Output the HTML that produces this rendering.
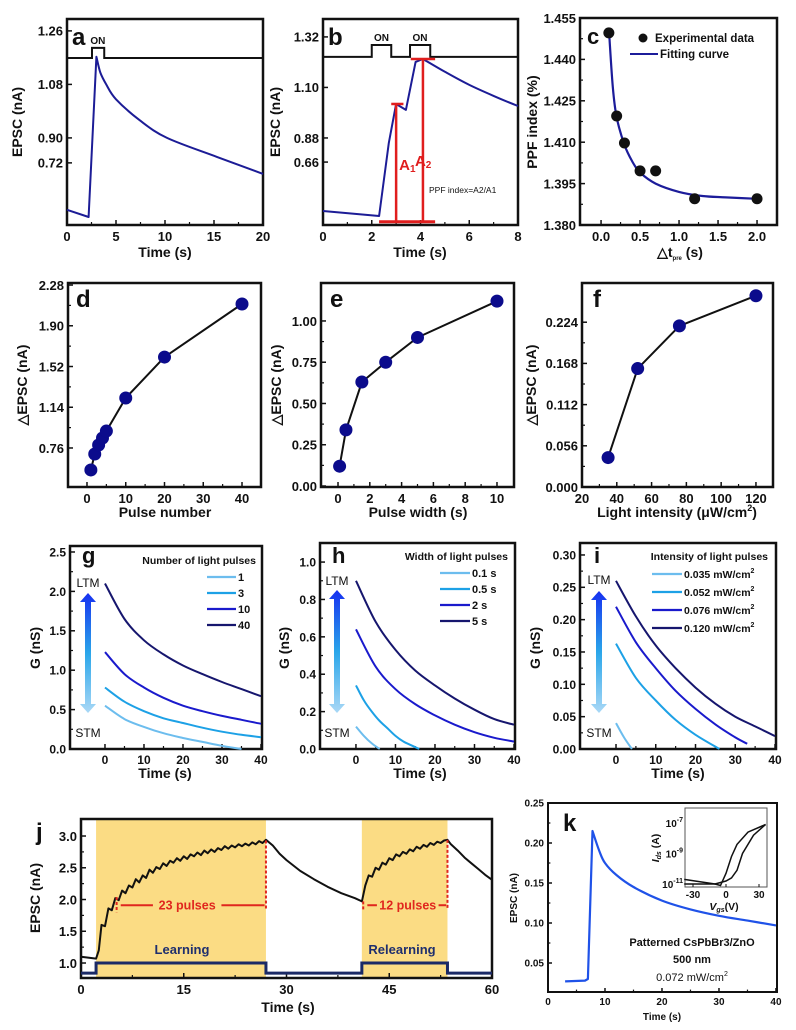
<!DOCTYPE html>
<html><head><meta charset="utf-8">
<style>
html,body{margin:0;padding:0;background:#fff;}
svg{display:block;font-family:"Liberation Sans",Arial,sans-serif;}
text{font-family:"Liberation Sans",Arial,sans-serif;}
</style></head>
<body>
<svg id="fig" width="796" height="1030" viewBox="0 0 796 1030" xmlns="http://www.w3.org/2000/svg">
<defs>
<linearGradient id="ltmgrad" x1="0" y1="0" x2="0" y2="1">
<stop offset="0" stop-color="#1630f0"/><stop offset="0.5" stop-color="#2aa6ea"/><stop offset="1" stop-color="#a9d8f6"/>
</linearGradient>
</defs>
</svg>
<script>
// ---------- DATA ----------
const a_t=[0,2.2,3.0,3.4,4.0,5,7.4,10.2,15.3,20];
const a_v=[0.658,0.634,1.173,1.12,1.08,1.03,0.96,0.90,0.836,0.779];
const a_on=[2.55,3.8];
const b_t=[0,2.3,2.7,3.0,3.4,3.8,4.1,5,6,7,8];
const b_v=[0.562,0.540,0.858,1.028,1.002,1.211,1.224,1.168,1.111,1.063,1.019];
const b_on1=[2.0,2.8];
const b_on2=[3.57,4.4];
const c_x=[0.1,0.2,0.3,0.5,0.7,1.2,2.0];
const c_y=[1.4496,1.4195,1.4097,1.3996,1.3996,1.3895,1.3895];
const c_fx=[0.1,0.15,0.2,0.3,0.4,0.5,0.7,1.0,1.3,1.6,2.0];
const c_fy=[1.451,1.430,1.419,1.409,1.403,1.399,1.395,1.392,1.3905,1.390,1.3895];
const d_x=[1,2,3,4,5,10,20,40];
const d_y=[0.555,0.704,0.788,0.853,0.918,1.226,1.608,2.103];
const e_x=[0.1,0.5,1.5,3,5,10];
const e_y=[0.12,0.34,0.63,0.75,0.90,1.12];
const f_x=[35,52,76,120];
const f_y=[0.040,0.161,0.219,0.260];
const g_t=[0,5,10,15,20,25,30,35,40];
const g_40=[2.1,1.65,1.38,1.2,1.06,0.95,0.85,0.76,0.67];
const g_10=[1.23,0.95,0.78,0.65,0.55,0.48,0.42,0.37,0.32];
const g_3=[0.78,0.6,0.48,0.39,0.33,0.27,0.22,0.18,0.15];
const g_1t=[0,5,10,15,20,25,30,35];
const g_1=[0.55,0.38,0.28,0.2,0.14,0.09,0.04,0.0];
const h_t=[0,5,10,15,20,25,30,35,40];
const h_5=[0.9,0.68,0.53,0.42,0.34,0.27,0.21,0.16,0.13];
const h_2=[0.64,0.44,0.32,0.24,0.18,0.13,0.09,0.06,0.04];
const h_05t=[0,2,4,6,8,10,12,14,16];
const h_05=[0.34,0.26,0.2,0.15,0.11,0.07,0.04,0.02,0.0];
const h_01t=[0,2,4,6];
const h_01=[0.12,0.07,0.03,0.0];
const i_t=[0,5,10,15,20,25,30,35,40];
const i_120=[0.26,0.205,0.16,0.125,0.095,0.07,0.05,0.035,0.02];
const i_076t=[0,5,10,15,20,25,30,33];
const i_076=[0.22,0.165,0.125,0.09,0.062,0.038,0.018,0.008];
const i_052t=[0,5,10,15,20,26];
const i_052=[0.163,0.11,0.075,0.045,0.022,0.0];
const i_035t=[0,2,4];
const i_035=[0.04,0.018,0.0];
const j_t=[0,2.2,2.6,3,3.5,4,4.5,5,5.5,6,6.5,7,7.5,8,8.5,9,9.5,10,10.5,11,11.5,12,12.5,13,13.5,14,14.5,15,15.5,16,16.5,17,17.5,18,18.5,19,19.5,20,20.5,21,21.5,22,22.5,23,23.5,24,24.5,25,25.5,26,26.5,27,28,29,30,32,34,36,38,40,41,41.5,42,42.5,43,43.5,44,44.5,45,45.5,46,46.5,47,47.5,48,48.5,49,49.5,50,50.5,51,51.5,52,52.5,53,53.5,54,55,56,57,58,59,60];
const j_v=[1.10,1.07,1.2,1.60,1.58,1.86,1.83,2.02,1.99,2.14,2.10,2.22,2.19,2.32,2.27,2.38,2.34,2.47,2.42,2.51,2.48,2.57,2.53,2.61,2.58,2.65,2.61,2.68,2.64,2.71,2.68,2.74,2.70,2.77,2.73,2.79,2.75,2.81,2.78,2.84,2.80,2.85,2.82,2.87,2.84,2.88,2.85,2.90,2.87,2.92,2.89,2.94,2.85,2.72,2.62,2.45,2.32,2.20,2.10,2.02,1.97,2.22,2.38,2.36,2.50,2.47,2.58,2.55,2.65,2.62,2.71,2.68,2.75,2.72,2.79,2.76,2.83,2.80,2.86,2.83,2.89,2.86,2.91,2.89,2.93,2.94,2.87,2.77,2.66,2.57,2.48,2.39,2.31];
const j_steps=[[0,2.2,0.84],[2.2,27,1.0],[27,41,0.84],[41,53.5,1.0],[53.5,60,0.84]];
const j_shade=[[2.2,27],[41,53.5]];
const k_t=[3,6.5,7.0,7.8,9,10,12,15,20,25,30,35,40];
const k_v=[0.027,0.028,0.03,0.215,0.19,0.175,0.16,0.145,0.128,0.117,0.109,0.103,0.097];
const kin_v1=[-38,-10,-5,0,5,10,20,36];
const kin_l1=[-10.7,-11.0,-11.1,-10.3,-9.2,-8.4,-7.6,-7.1];
const kin_v2=[-38,-10,0,5,10,15,25,36];
const kin_l2=[-11.0,-11.0,-10.8,-10.6,-10.1,-9.0,-7.8,-7.1];

// ---------- HELPERS ----------
const NS='http://www.w3.org/2000/svg';
const svg=document.getElementById('fig');
function el(tag,attrs,name,parent){
  const e=document.createElementNS(NS,tag);
  for(const k in attrs) e.setAttribute(k,attrs[k]);
  
  
  (parent||svg).appendChild(e);
  return e;
}
function txt(x,y,s,o,name,parent){
  o=o||{};
  const t=el('text',{x:x,y:y,'font-size':o.fs||13,'font-weight':o.fw||'bold','text-anchor':o.anchor||'start',fill:o.fill||'#111'},name,parent);
  if(o.rot) t.setAttribute('transform','rotate(-90 '+x+' '+y+')');
  t.textContent=s;
  return t;
}
function frame(p){
  const g=el('g',{},p.id+'-panel');
  const [x0,y0,x1,y1]=p.box;
  const sx=v=>x0+(v-p.xd[0])/(p.xd[1]-p.xd[0])*(x1-x0);
  const sy=v=>y1-(v-p.yd[0])/(p.yd[1]-p.yd[0])*(y1-y0);
  const fs=p.fs||13;
  const tl=p.tl||5;
  p.xt.forEach((v,i)=>{
    const X=sx(v);
    el('line',{x1:X,x2:X,y1:y1,y2:y1-tl,stroke:'#111','stroke-width':1.5},'x-tick',g);
    txt(X,y1+fs+3,p.xl[i],{fs:fs,anchor:'middle'},'x-tick-label',g);
    if(i<p.xt.length-1){const m=sx((v+p.xt[i+1])/2);
      el('line',{x1:m,x2:m,y1:y1,y2:y1-tl*0.6,stroke:'#111','stroke-width':1.2},'x-minor-tick',g);}
  });
  p.yt.forEach((v,i)=>{
    const Y=sy(v);
    el('line',{x1:x0,x2:x0+tl,y1:Y,y2:Y,stroke:'#111','stroke-width':1.5},'y-tick',g);
    txt(x0-4,Y+fs*0.37,p.yl[i],{fs:fs,anchor:'end'},'y-tick-label',g);
    if(i<p.yt.length-1 && !p.nominor){const m=sy((v+p.yt[i+1])/2);
      el('line',{x1:x0,x2:x0+tl*0.6,y1:m,y2:m,stroke:'#111','stroke-width':1.2},'y-minor-tick',g);}
  });
  el('rect',{x:x0,y:y0,width:x1-x0,height:y1-y0,fill:'none',stroke:'#111','stroke-width':p.sw||2.5},'plot-frame',g);
  return {sx,sy,g};
}
function line(ax,xs,ys,color,w,name){
  const d=xs.map((v,i)=>(i?'L':'M')+ax.sx(v).toFixed(1)+' '+ax.sy(ys[i]).toFixed(1)).join(' ');
  return el('path',{d:d,fill:'none',stroke:color,'stroke-width':w||2,'stroke-linejoin':'round'},name,ax.g);
}
function mixed(ax,xs,ys,color,w,name,k){
  const P=xs.map((v,i)=>[ax.sx(v),ax.sy(ys[i])]);
  let d='M'+P[0][0].toFixed(1)+' '+P[0][1].toFixed(1);
  for(let i=0;i<P.length-1;i++){
    const p1=P[i],p2=P[i+1];
    if(i<k){d+=' L'+p2[0].toFixed(1)+' '+p2[1].toFixed(1);continue;}
    const p0=(i>k?P[i-1]:P[i]),p3=P[i+2]||P[i+1];
    const c1=[p1[0]+(p2[0]-p0[0])/6,p1[1]+(p2[1]-p0[1])/6];
    const c2=[p2[0]-(p3[0]-p1[0])/6,p2[1]-(p3[1]-p1[1])/6];
    d+=' C'+c1.map(n=>n.toFixed(1)).join(' ')+' '+c2.map(n=>n.toFixed(1)).join(' ')+' '+p2.map(n=>n.toFixed(1)).join(' ');
  }
  return el('path',{d:d,fill:'none',stroke:color,'stroke-width':w||2,'stroke-linejoin':'round'},name,ax.g);
}
function smooth(ax,xs,ys,color,w,name){return mixed(ax,xs,ys,color,w,name,0);}
function dots(ax,xs,ys,r,color,name){
  xs.forEach((v,i)=>{
    el('circle',{cx:ax.sx(v),cy:ax.sy(ys[i]),r:r,fill:color},name,ax.g);
  });
}
function ytitle(x,y,s,fs){txt(x,y,s,{fs:fs||14,anchor:'middle',rot:1},'y-axis-title');}
function xtitle(x,y,s,fs){txt(x,y,s,{fs:fs||14,anchor:'middle'},'x-axis-title');}
function letter(x,y,s,fs){txt(x,y,s,{fs:fs||24},'panel-label-'+s);}
function ltmArrow(ax,x,yT,yB,ltmY,stmY){
  el('path',{d:`M${x-3} ${yT+9} L${x-8} ${yT+9} L${x} ${yT} L${x+8} ${yT+9} L${x+3} ${yT+9} L${x+3} ${yB-9} L${x+8} ${yB-9} L${x} ${yB} L${x-8} ${yB-9} L${x-3} ${yB-9} Z`,fill:'url(#ltmgrad)'},'ltm-stm-arrow',ax.g);
  txt(x,ltmY,'LTM',{fs:12,fw:'normal',anchor:'middle'},'ltm-label',ax.g);
  txt(x,stmY,'STM',{fs:12,fw:'normal',anchor:'middle'},'stm-label',ax.g);
}
const NAVY='#1c1c96', DOT='#0b0b8c';
const C1='#6cbdee',C2='#1da1e6',C3='#1a1acc',C4='#16166e';

// ---------- PANEL A ----------
(function(){
  const ax=frame({id:'a',box:[67,19,263,225],xd:[0,20],yd:[0.607,1.30],xt:[0,5,10,15,20],xl:['0','5','10','15','20'],yt:[0.816,0.90,1.08,1.26],yl:['0.72','0.90','1.08','1.26'],nominor:1});
  const base=1.169,hi=1.203;
  el('path',{d:`M${ax.sx(0)} ${ax.sy(base)} L${ax.sx(a_on[0])} ${ax.sy(base)} L${ax.sx(a_on[0])} ${ax.sy(hi)} L${ax.sx(a_on[1])} ${ax.sy(hi)} L${ax.sx(a_on[1])} ${ax.sy(base)} L${ax.sx(20)} ${ax.sy(base)}`,fill:'none',stroke:'#111','stroke-width':2},'light-pulse-trace',ax.g);
  txt(ax.sx(3.15),ax.sy(hi)-4,'ON',{fs:10,anchor:'middle'},'on-label',ax.g);
  mixed(ax,a_t,a_v,NAVY,2,'epsc-curve',2);
  letter(72,45,'a');
  ytitle(22,122,'EPSC (nA)');
  xtitle(165,257,'Time (s)');
})();

// ---------- PANEL B ----------
(function(){
  const ax=frame({id:'b',box:[323,19,518,225],xd:[0,8],yd:[0.501,1.398],xt:[0,2,4,6,8],xl:['0','2','4','6','8'],yt:[0.775,0.88,1.10,1.32],yl:['0.66','0.88','1.10','1.32'],nominor:1});
  const base=1.233,hi=1.285;
  const X=ax.sx,Y=ax.sy;
  el('path',{d:`M${X(0)} ${Y(base)} L${X(b_on1[0])} ${Y(base)} L${X(b_on1[0])} ${Y(hi)} L${X(b_on1[1])} ${Y(hi)} L${X(b_on1[1])} ${Y(base)} L${X(b_on2[0])} ${Y(base)} L${X(b_on2[0])} ${Y(hi)} L${X(b_on2[1])} ${Y(hi)} L${X(b_on2[1])} ${Y(base)} L${X(8)} ${Y(base)}`,fill:'none',stroke:'#111','stroke-width':2},'light-pulse-trace',ax.g);
  txt(X(2.4),Y(hi)-4,'ON',{fs:10,anchor:'middle'},'on-label-1',ax.g);
  txt(X(3.98),Y(hi)-4,'ON',{fs:10,anchor:'middle'},'on-label-2',ax.g);
  mixed(ax,b_t,b_v,NAVY,2,'epsc-curve',6);
  const red='#e01e1e', bot=0.515;
  el('line',{x1:X(2.3),x2:X(4.6),y1:Y(bot),y2:Y(bot),stroke:red,'stroke-width':3},'baseline-marker',ax.g);
  el('line',{x1:X(3.0),x2:X(3.0),y1:Y(bot),y2:Y(1.028),stroke:red,'stroke-width':2.5},'a1-marker',ax.g);
  el('line',{x1:X(2.8),x2:X(3.3),y1:Y(1.028),y2:Y(1.028),stroke:red,'stroke-width':2.5},'a1-cap',ax.g);
  el('line',{x1:X(4.1),x2:X(4.1),y1:Y(bot),y2:Y(1.224),stroke:red,'stroke-width':2.5},'a2-marker',ax.g);
  el('line',{x1:X(3.6),x2:X(4.6),y1:Y(1.224),y2:Y(1.224),stroke:red,'stroke-width':2.5},'a2-cap',ax.g);
  const t1=txt(X(3.0)+3,170,'A',{fs:15,fill:red},'a1-label',ax.g);
  const s1=document.createElementNS(NS,'tspan');s1.setAttribute('font-size','10');s1.setAttribute('dy','2');s1.textContent='1';t1.appendChild(s1);
  const t2=txt(X(4.1)-8,166,'A',{fs:15,fill:red},'a2-label',ax.g);
  const s2=document.createElementNS(NS,'tspan');s2.setAttribute('font-size','10');s2.setAttribute('dy','2');s2.textContent='2';t2.appendChild(s2);
  txt(429,193,'PPF index=A2/A1',{fs:8.5,fw:'normal'},'ppf-formula',ax.g);
  letter(328,45,'b');
  ytitle(280,122,'EPSC (nA)');
  xtitle(420,257,'Time (s)');
})();

// ---------- PANEL C ----------
(function(){
  const ax=frame({id:'c',box:[580,18,777,225],xd:[-0.27,2.256],yd:[1.380,1.455],xt:[0,0.5,1.0,1.5,2.0],xl:['0.0','0.5','1.0','1.5','2.0'],yt:[1.380,1.395,1.410,1.425,1.440,1.455],yl:['1.380','1.395','1.410','1.425','1.440','1.455']});
  smooth(ax,c_fx,c_fy,'#1c1c9a',2.2,'fitting-curve');
  dots(ax,c_x,c_y,5.5,'#111','experimental-point');
  el('circle',{cx:643,cy:38,r:4.5,fill:'#111'},'legend-marker-experimental',ax.g);
  txt(655,42,'Experimental data',{fs:11.5},'legend-text-experimental',ax.g);
  el('line',{x1:630,x2:658,y1:54,y2:54,stroke:'#1c1c9a','stroke-width':2},'legend-line-fit',ax.g);
  txt(660,58,'Fitting curve',{fs:11.5},'legend-text-fit',ax.g);
  letter(587,44,'c',22);
  ytitle(537,122,'PPF index (%)');
  const t=txt(680,257,'\u25B3t',{fs:14,anchor:'middle'},'x-axis-title');
  const sp=document.createElementNS(NS,'tspan');sp.setAttribute('font-size','6');sp.setAttribute('dy','3');sp.textContent='pre';t.appendChild(sp);
  const sp2=document.createElementNS(NS,'tspan');sp2.setAttribute('dy','-3');sp2.textContent=' (s)';t.appendChild(sp2);
})();

// ---------- PANEL D ----------
(function(){
  const ax=frame({id:'d',box:[68,283,261,487],xd:[-4.9,44.9],yd:[0.396,2.299],xt:[0,10,20,30,40],xl:['0','10','20','30','40'],yt:[0.76,1.14,1.52,1.90,2.28],yl:['0.76','1.14','1.52','1.90','2.28']});
  line(ax,d_x,d_y,'#111',2,'trend-line');
  dots(ax,d_x,d_y,6.5,DOT,'data-point');
  letter(76,307,'d');
  ytitle(27,385,'\u25B3EPSC (nA)');
  xtitle(165,517,'Pulse number');
})();

// ---------- PANEL E ----------
(function(){
  const ax=frame({id:'e',box:[321,283,514,487],xd:[-1.07,11.07],yd:[-0.006,1.23],xt:[0,2,4,6,8,10],xl:['0','2','4','6','8','10'],yt:[0,0.25,0.5,0.75,1.0],yl:['0.00','0.25','0.50','0.75','1.00']});
  line(ax,e_x,e_y,'#111',2,'trend-line');
  dots(ax,e_x,e_y,6.5,DOT,'data-point');
  letter(330,307,'e');
  ytitle(281,385,'\u25B3EPSC (nA)');
  xtitle(418,517,'Pulse width (s)');
})();

// ---------- PANEL F ----------
(function(){
  const ax=frame({id:'f',box:[582,283,773,487],xd:[20,129.8],yd:[0,0.2773],xt:[20,40,60,80,100,120],xl:['20','40','60','80','100','120'],yt:[0,0.056,0.112,0.168,0.224],yl:['0.000','0.056','0.112','0.168','0.224']});
  line(ax,f_x,f_y,'#111',2,'trend-line');
  dots(ax,f_x,f_y,6.5,DOT,'data-point');
  letter(593,307,'f');
  ytitle(536,385,'\u25B3EPSC (nA)');
  const t=txt(677,517,'Light intensity (\u03BCW/cm',{fs:14,anchor:'middle'},'x-axis-title');
  const sp=document.createElementNS(NS,'tspan');sp.setAttribute('font-size','9');sp.setAttribute('dy','-6');sp.textContent='2';t.appendChild(sp);
  const sp2=document.createElementNS(NS,'tspan');sp2.setAttribute('dy','6');sp2.textContent=')';t.appendChild(sp2);
})();

// ---------- PANEL G ----------
(function(){
  const ax=frame({id:'g',box:[70,546,262,749],xd:[-8.97,40.26],yd:[0,2.576],xt:[0,10,20,30,40],xl:['0','10','20','30','40'],yt:[0,0.5,1.0,1.5,2.0,2.5],yl:['0.0','0.5','1.0','1.5','2.0','2.5'],fs:12});
  smooth(ax,g_1t,g_1,C1,2,'series-1-pulse');
  smooth(ax,g_t,g_3,C2,2,'series-3-pulses');
  smooth(ax,g_t,g_10,C3,2,'series-10-pulses');
  smooth(ax,g_t,g_40,C4,2,'series-40-pulses');
  ltmArrow(ax,88,593,713,587,737);
  txt(256,564,'Number of light pulses',{fs:10.5,anchor:'end'},'legend-title',ax.g);
  [['1',C1],['3',C2],['10',C3],['40',C4]].forEach((r,i)=>{
    const y=577+i*16;
    el('line',{x1:207,x2:236,y1:y,y2:y,stroke:r[1],'stroke-width':2.2},'legend-line',ax.g);
    txt(238,y+4,r[0],{fs:11},'legend-label',ax.g);
  });
  letter(82,563,'g',22);
  ytitle(40,648,'G (nS)');
  xtitle(165,778,'Time (s)');
})();

// ---------- PANEL H ----------
(function(){
  const ax=frame({id:'h',box:[320,543,515,749],xd:[-9.1,40.25],yd:[0,1.102],xt:[0,10,20,30,40],xl:['0','10','20','30','40'],yt:[0,0.2,0.4,0.6,0.8,1.0],yl:['0.0','0.2','0.4','0.6','0.8','1.0'],fs:12});
  smooth(ax,h_01t,h_01,C1,2,'series-0.1s');
  smooth(ax,h_05t,h_05,C2,2,'series-0.5s');
  smooth(ax,h_t,h_2,C3,2,'series-2s');
  smooth(ax,h_t,h_5,C4,2,'series-5s');
  ltmArrow(ax,337,590,713,585,737);
  txt(508,560,'Width of light pulses',{fs:10.5,anchor:'end'},'legend-title',ax.g);
  [['0.1 s',C1],['0.5 s',C2],['2 s',C3],['5 s',C4]].forEach((r,i)=>{
    const y=573+i*16;
    el('line',{x1:440,x2:470,y1:y,y2:y,stroke:r[1],'stroke-width':2.2},'legend-line',ax.g);
    txt(472,y+4,r[0],{fs:11},'legend-label',ax.g);
  });
  letter(332,563,'h',22);
  ytitle(289,648,'G (nS)');
  xtitle(420,778,'Time (s)');
})();

// ---------- PANEL I ----------
(function(){
  const ax=frame({id:'i',box:[580,543,776,749],xd:[-9.06,40.25],yd:[0,0.3185],xt:[0,10,20,30,40],xl:['0','10','20','30','40'],yt:[0,0.05,0.10,0.15,0.20,0.25,0.30],yl:['0.00','0.05','0.10','0.15','0.20','0.25','0.30'],fs:12});
  smooth(ax,i_035t,i_035,C1,2,'series-0.035');
  smooth(ax,i_052t,i_052,C2,2,'series-0.052');
  smooth(ax,i_076t,i_076,C3,2,'series-0.076');
  smooth(ax,i_t,i_120,C4,2,'series-0.120');
  ltmArrow(ax,599,591,713,584,737);
  txt(768,560,'Intensity of light pulses',{fs:10.5,anchor:'end'},'legend-title',ax.g);
  [['0.035 mW/cm',C1],['0.052 mW/cm',C2],['0.076 mW/cm',C3],['0.120 mW/cm',C4]].forEach((r,i)=>{
    const y=574+i*18;
    el('line',{x1:652,x2:682,y1:y,y2:y,stroke:r[1],'stroke-width':2.2},'legend-line',ax.g);
    const t=txt(684,y+4,r[0],{fs:10.5},'legend-label',ax.g);
    const sp=document.createElementNS(NS,'tspan');sp.setAttribute('font-size','7');sp.setAttribute('dy','-5');sp.textContent='2';t.appendChild(sp);
  });
  letter(594,563,'i',22);
  ytitle(540,648,'G (nS)');
  xtitle(678,778,'Time (s)');
})();

// ---------- PANEL J ----------
(function(){
  const box=[81,819,492,978];
  const xd=[0,60],yd=[0.764,3.268];
  const sx=v=>box[0]+(v-xd[0])/(xd[1]-xd[0])*(box[2]-box[0]);
  const sy=v=>box[3]-(v-yd[0])/(yd[1]-yd[0])*(box[3]-box[1]);
  const sg=el('g',{},'j-shading');
  j_shade.forEach(s=>{
    el('rect',{x:sx(s[0]),y:box[1],width:sx(s[1])-sx(s[0]),height:box[3]-box[1],fill:'#fbdc84'},'training-window',sg);
  });
  const ax=frame({id:'j',box:box,xd:xd,yd:yd,xt:[0,15,30,45,60],xl:['0','15','30','45','60'],yt:[1.0,1.5,2.0,2.5,3.0],yl:['1.0','1.5','2.0','2.5','3.0']});
  let d='';
  j_steps.forEach((s,i)=>{d+=(i?'L':'M')+sx(s[0])+' '+sy(s[2])+' L'+sx(s[1])+' '+sy(s[2])+' ';});
  el('path',{d:d,fill:'none',stroke:'#1b2a66','stroke-width':3},'pulse-train',ax.g);
  line(ax,j_t,j_v,'#111',2,'epsc-curve');
  const red='#e0261e';
  const dash={stroke:red,'stroke-width':2,'stroke-dasharray':'3 2'};
  el('line',Object.assign({x1:sx(5.2),x2:sx(5.2),y1:sy(2.04),y2:sy(1.8)},dash),'learning-start-marker',ax.g);
  el('line',Object.assign({x1:sx(27),x2:sx(27),y1:sy(2.93),y2:sy(1.85)},dash),'learning-end-marker',ax.g);
  el('line',{x1:sx(5.8),x2:sx(10.5),y1:sy(1.91),y2:sy(1.91),stroke:red,'stroke-width':2},'pulse-span-left',ax.g);
  el('line',{x1:sx(20.5),x2:sx(26.8),y1:sy(1.91),y2:sy(1.91),stroke:red,'stroke-width':2},'pulse-span-right',ax.g);
  txt(sx(15.5),sy(1.91)+4.5,'23 pulses',{fs:12.5,fill:red,anchor:'middle'},'pulses-23-label',ax.g);
  el('line',Object.assign({x1:sx(41.2),x2:sx(41.2),y1:sy(1.97),y2:sy(1.84)},dash),'relearning-start-marker',ax.g);
  el('line',Object.assign({x1:sx(53.5),x2:sx(53.5),y1:sy(2.94),y2:sy(1.86)},dash),'relearning-end-marker',ax.g);
  el('line',{x1:sx(41.8),x2:sx(43.2),y1:sy(1.91),y2:sy(1.91),stroke:red,'stroke-width':2},'pulse-span-left-2',ax.g);
  el('line',{x1:sx(52.2),x2:sx(53.3),y1:sy(1.91),y2:sy(1.91),stroke:red,'stroke-width':2},'pulse-span-right-2',ax.g);
  txt(sx(47.7),sy(1.91)+4.5,'12 pulses',{fs:12.5,fill:red,anchor:'middle'},'pulses-12-label',ax.g);
  txt(182,954,'Learning',{fs:13,fill:'#1f2f6e',anchor:'middle'},'learning-label',ax.g);
  txt(402,954,'Relearning',{fs:13,fill:'#1f2f6e',anchor:'middle'},'relearning-label',ax.g);
  letter(36,840,'j',24);
  ytitle(40,898,'EPSC (nA)');
  xtitle(288,1012,'Time (s)');
})();

// ---------- PANEL K ----------
(function(){
  const ax=frame({id:'k',box:[548,803,777,992],xd:[0,40.18],yd:[0.01375,0.25],xt:[0,10,20,30,40],xl:['0','10','20','30','40'],yt:[0.05,0.10,0.15,0.20,0.25],yl:['0.05','0.10','0.15','0.20','0.25'],fs:10,tl:4,sw:2});
  mixed(ax,k_t,k_v,'#1f52e8',2.2,'epsc-curve',3);
  letter(563,831,'k',24);
  txt(692,946,'Patterned CsPbBr3/ZnO',{fs:11,anchor:'middle'},'sample-label',ax.g);
  txt(692,963,'500 nm',{fs:11,anchor:'middle'},'thickness-label',ax.g);
  const t=txt(692,981,'0.072 mW/cm',{fs:11,fw:'normal',anchor:'middle'},'intensity-label',ax.g);
  const sp=document.createElementNS(NS,'tspan');sp.setAttribute('font-size','7');sp.setAttribute('dy','-5');sp.textContent='2';t.appendChild(sp);
  ytitle(517,898,'EPSC (nA)',10);
  xtitle(662,1020,'Time (s)',10);
  const ib=[685,808,767,887];
  const isx=v=>726+v*1.1;
  const isy=l=>823-(l+7)*15.25;
  const ig=el('g',{},'transfer-inset');
  el('rect',{x:ib[0],y:ib[1],width:ib[2]-ib[0],height:ib[3]-ib[1],fill:'#fff',stroke:'#555','stroke-width':1},'inset-frame',ig);
  [[kin_v1,kin_l1],[kin_v2,kin_l2]].forEach((s,k)=>{
    const d=s[0].map((v,i)=>(i?'L':'M')+isx(v).toFixed(1)+' '+isy(s[1][i]).toFixed(1)).join(' ');
    el('path',{d:d,fill:'none',stroke:'#111','stroke-width':1.5},'transfer-curve-'+(k+1),ig);
  });
  [[-7,'-7'],[-9,'-9'],[-11,'-11']].forEach(r=>{
    const t=txt(683,isy(r[0])+4,'10',{fs:10,anchor:'end'},'inset-y-tick-label',ig);
    const sp=document.createElementNS(NS,'tspan');sp.setAttribute('font-size','7');sp.setAttribute('dy','-5');sp.textContent=r[1];t.appendChild(sp);
  });
  [-30,0,30].forEach(v=>{
    txt(isx(v),898,String(v),{fs:10,anchor:'middle'},'inset-x-tick-label',ig);
    el('line',{x1:isx(v),x2:isx(v),y1:ib[3],y2:ib[3]-3,stroke:'#111','stroke-width':1},'inset-x-tick',ig);
  });
  const yt=txt(659,848,'I',{fs:10.5,anchor:'middle',rot:1},'inset-y-title',ig);
  yt.setAttribute('font-style','italic');
  const a1=document.createElementNS(NS,'tspan');a1.setAttribute('font-size','7');a1.setAttribute('dy','2');a1.textContent='ds';yt.appendChild(a1);
  const a2=document.createElementNS(NS,'tspan');a2.setAttribute('dy','-2');a2.setAttribute('font-style','normal');a2.textContent=' (A)';yt.appendChild(a2);
  const xt=txt(724,910,'V',{fs:10.5,anchor:'middle'},'inset-x-title',ig);
  xt.setAttribute('font-style','italic');
  const b1=document.createElementNS(NS,'tspan');b1.setAttribute('font-size','7');b1.setAttribute('dy','2');b1.textContent='gs';xt.appendChild(b1);
  const b2=document.createElementNS(NS,'tspan');b2.setAttribute('dy','-2');b2.setAttribute('font-style','normal');b2.textContent='(V)';xt.appendChild(b2);
})();
</script>
</body></html>
